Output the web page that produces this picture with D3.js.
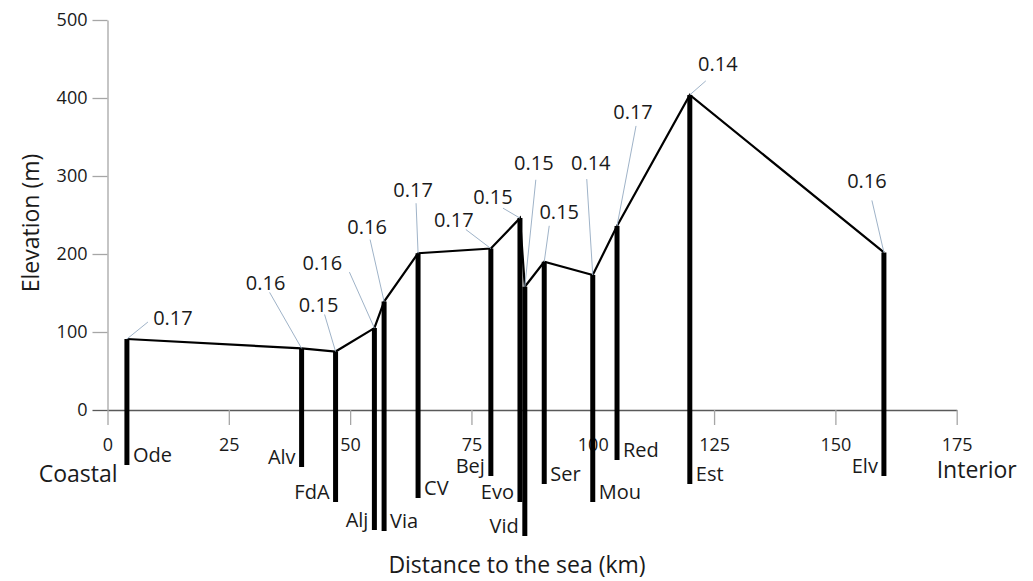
<!DOCTYPE html>
<html>
<head>
<meta charset="utf-8">
<script src="https://cdn.jsdelivr.net/npm/d3@7"></script>
<style>
  body { margin: 0; background: #fff; }
  text { font-family: "Open Sans", sans-serif; fill: #1a1a1a; }
</style>
</head>
<body>
<div id="chart"></div>
<script>
// Data
const stations   = ['Ode', 'Alv', 'FdA', 'Alj', 'Via', 'CV', 'Bej', 'Evo', 'Vid', 'Ser', 'Mou', 'Red', 'Est', 'Elv']
const distances  = [4, 40, 47, 55, 57, 64, 79, 85, 86, 90, 100, 105, 120, 160]      // km
const elevations = [91, 79, 75, 105, 139, 201, 207, 246, 158, 190, 173, 236, 404, 202] // m
const ratios     = [0.17, 0.16, 0.15, 0.16, 0.16, 0.17, 0.17, 0.15, 0.15, 0.15, 0.14, 0.17, 0.14, 0.16]
const xTicks = [0, 25, 50, 75, 100, 125, 150, 175]
const yTicks = [0, 100, 200, 300, 400, 500]

// Layout of the name labels: how far the bar drops below the axis and on which side the name sits
const nameDrop = [55, 57, 92, 120, 121, 88, 66, 92, 126, 74, 92, 50, 74, 66]
const nameSide = ['R', 'L', 'L', 'L', 'R', 'R', 'L', 'L', 'L', 'R', 'R', 'R', 'R', 'L']
// Layout of the value callouts: [text dx, text dy, leader dx, leader dy] from the profile point
const callout = [
  [46, -21, 21, -17], [-36, -65, -32, -56], [-17, -47, -11, -37], [-52, -65, -25, -56],
  [-17, -75, -14, -62], [-5, -63, -2, -50], [-37, -29, -25, -19], [-27, -21, -17, -10],
  [9, -124, 11, -107], [15, -50, 5, -36], [-2, -112, -6, -96], [16, -114, 19, -100],
  [28, -31, 16, -14], [-17, -71, -12, -52]
]

const dataset = stations.map((s, i) => ({
  name: s, dist: distances[i], elev: elevations[i], ratio: ratios[i],
  drop: nameDrop[i], side: nameSide[i], c: callout[i]
}))

// Dimensions
let dimensions = {
  width: 1033,
  height: 581,
  margin: { top: 20, bottom: 171, left: 107.5, right: 76.3 }
}
dimensions.ctrWidth = dimensions.width - dimensions.margin.left - dimensions.margin.right
dimensions.ctrHeight = dimensions.height - dimensions.margin.top - dimensions.margin.bottom

const svg = d3.select('#chart')
  .append('svg')
  .attr('width', dimensions.width)
  .attr('height', dimensions.height)
const ctr = svg.append('g')
  .attr('transform', `translate(${dimensions.margin.left},${dimensions.margin.top})`)

// Scales
const xScale = d3.scaleLinear().domain([0, 175]).range([0, dimensions.ctrWidth])
const yScale = d3.scaleLinear().domain([0, 500]).range([dimensions.ctrHeight, 0])

// Axes
const xAxisGroup = ctr.append('g')
  .attr('transform', `translate(0,${dimensions.ctrHeight})`)
  .call(d3.axisBottom(xScale).tickValues(xTicks).tickSize(15).tickSizeOuter(0).tickPadding(13))
xAxisGroup.select('path').attr('stroke', '#595959').attr('stroke-width', 1.3)
xAxisGroup.selectAll('line').attr('stroke', '#a6a6a6').attr('stroke-width', 1.3)
xAxisGroup.selectAll('text').style('font-size', '18px').attr('fill', '#262626')

const yAxisGroup = ctr.append('g')
  .call(d3.axisLeft(yScale).tickValues(yTicks).tickSize(15).tickSizeOuter(0).tickPadding(5))
yAxisGroup.selectAll('line, path').attr('stroke', '#a6a6a6').attr('stroke-width', 1.3)
yAxisGroup.selectAll('.tick').filter(d => d === 0).select('line').attr('stroke', '#595959')
yAxisGroup.selectAll('text').style('font-size', '18px').attr('fill', '#262626')

// Bars: from the profile point down past the axis to the station name
ctr.selectAll('.bar')
  .data(dataset)
  .join('line')
  .attr('class', 'bar')
  .attr('x1', d => xScale(d.dist))
  .attr('x2', d => xScale(d.dist))
  .attr('y1', d => yScale(d.elev))
  .attr('y2', d => yScale(0) + d.drop)
  .attr('stroke', '#000')
  .attr('stroke-width', 5)

// Profile line
const line = d3.line().x(d => xScale(d.dist)).y(d => yScale(d.elev))
ctr.append('path')
  .datum(dataset)
  .attr('d', line)
  .attr('fill', 'none')
  .attr('stroke', '#000')
  .attr('stroke-width', 2.2)

// Station names
ctr.selectAll('.name')
  .data(dataset)
  .join('text')
  .attr('class', 'name')
  .attr('x', d => xScale(d.dist) + (d.side === 'R' ? 6 : -6))
  .attr('y', d => yScale(0) + d.drop - 3)
  .attr('text-anchor', d => d.side === 'R' ? 'start' : 'end')
  .style('font-size', '20px')
  .text(d => d.name)

// Value callouts
ctr.selectAll('.leader')
  .data(dataset)
  .join('line')
  .attr('class', 'leader')
  .attr('x1', d => xScale(d.dist) + d.c[2])
  .attr('y1', d => yScale(d.elev) + d.c[3])
  .attr('x2', d => xScale(d.dist))
  .attr('y2', d => yScale(d.elev))
  .attr('stroke', '#9fb3c8')
  .attr('stroke-width', 1)
ctr.selectAll('.val')
  .data(dataset)
  .join('text')
  .attr('class', 'val')
  .attr('x', d => xScale(d.dist) + d.c[0])
  .attr('y', d => yScale(d.elev) + d.c[1])
  .attr('dy', '0.35em')
  .attr('text-anchor', 'middle')
  .style('font-size', '20px')
  .text(d => d.ratio.toFixed(2))

// Titles
ctr.append('text')
  .attr('x', xScale(0) + 10)
  .attr('y', dimensions.ctrHeight + 72)
  .attr('text-anchor', 'end')
  .style('font-size', '23px')
  .text('Coastal')
ctr.append('text')
  .attr('x', xScale(175) - 20)
  .attr('y', dimensions.ctrHeight + 68)
  .style('font-size', '23px')
  .text('Interior')
ctr.append('text')
  .attr('x', 517 - dimensions.margin.left)
  .attr('y', dimensions.ctrHeight + 163)
  .attr('text-anchor', 'middle')
  .style('font-size', '23px')
  .text('Distance to the sea (km)')
ctr.append('text')
  .attr('transform', `translate(${39 - dimensions.margin.left},${223 - dimensions.margin.top}) rotate(-90)`)
  .attr('text-anchor', 'middle')
  .style('font-size', '23px')
  .text('Elevation (m)')
</script>
</body>
</html>
